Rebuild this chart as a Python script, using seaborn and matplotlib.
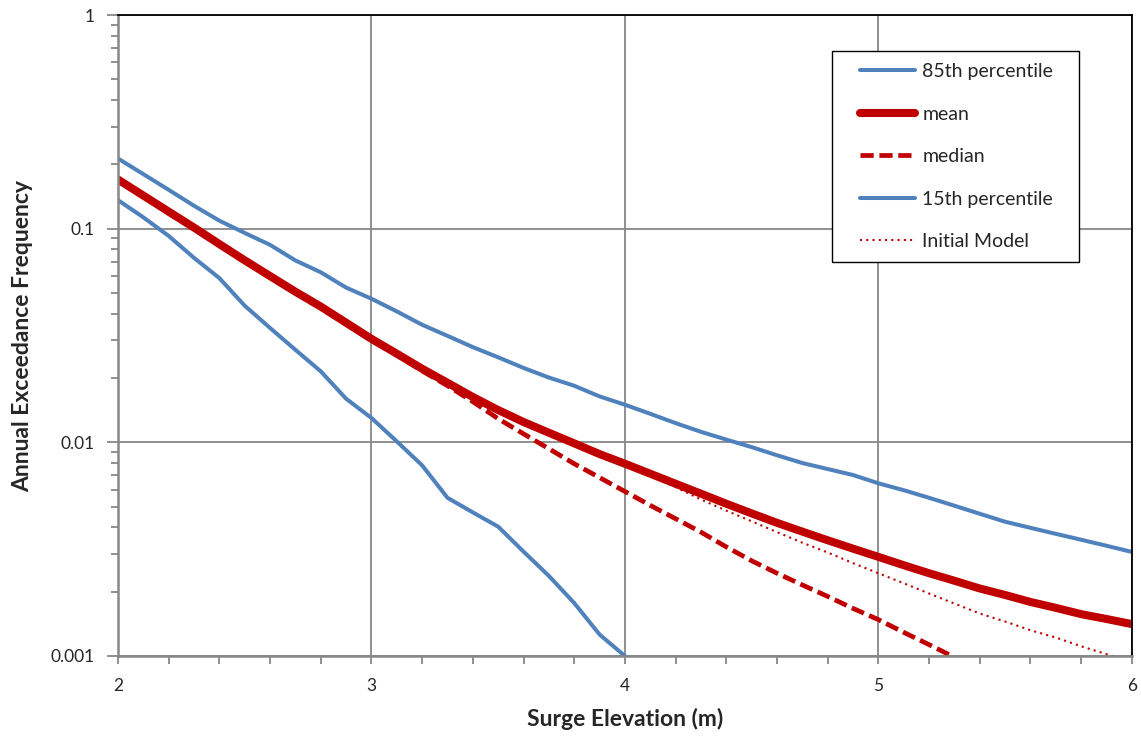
import numpy as np
import pandas as pd
import matplotlib
matplotlib.use("Agg")
import matplotlib.pyplot as plt
from matplotlib.patches import Rectangle
from matplotlib.ticker import FixedLocator, MultipleLocator, NullFormatter, LogLocator
import seaborn as sns

# Surge elevation (m)
elevation = [2.0, 2.1, 2.2, 2.3, 2.4, 2.5, 2.6, 2.7, 2.8, 2.9,
             3.0, 3.1, 3.2, 3.3, 3.4, 3.5, 3.6, 3.7, 3.8, 3.9,
             4.0, 4.1, 4.2, 4.3, 4.4, 4.5, 4.6, 4.7, 4.8, 4.9,
             5.0, 5.1, 5.2, 5.3, 5.4, 5.5, 5.6, 5.7, 5.8, 5.9, 6.0]

# Annual exceedance frequency per series
p85 = [0.213, 0.180, 0.152, 0.128, 0.109, 0.0955, 0.0840, 0.0710, 0.0625, 0.0530,
       0.0470, 0.0410, 0.0355, 0.0315, 0.0279, 0.0250, 0.0223, 0.0201, 0.0184, 0.0164,
       0.0150, 0.0136, 0.0123, 0.0112, 0.0103, 0.0095, 0.0087, 0.0080, 0.0075, 0.00703,
       0.00643, 0.00597, 0.00550, 0.00505, 0.00463, 0.00425, 0.00398, 0.00373, 0.00350,
       0.00328, 0.00307]

mean = [0.1698, 0.1429, 0.1202, 0.1012, 0.0847, 0.0711, 0.0600, 0.0507, 0.0432, 0.0363,
        0.0305, 0.0260, 0.0221, 0.0190, 0.0163, 0.01416, 0.01245, 0.01109, 0.00989, 0.00881,
        0.00794, 0.00713, 0.00640, 0.00575, 0.00516, 0.00465, 0.00420, 0.00382, 0.00348,
        0.00318, 0.00291, 0.00266, 0.00244, 0.00225, 0.00207, 0.00193, 0.00179, 0.00168,
        0.00157, 0.00149, 0.00141]

median_elev = elevation[:34]
median = [0.168, 0.141, 0.118, 0.0995, 0.0835, 0.0700, 0.0590, 0.0499, 0.0425, 0.0357,
          0.0300, 0.0256, 0.0216, 0.0184, 0.0155, 0.0129, 0.01096, 0.00933, 0.00794, 0.00684,
          0.00589, 0.00507, 0.00439, 0.00380, 0.00324, 0.00279, 0.00244, 0.00215, 0.00190,
          0.00167, 0.00148, 0.00129, 0.00113, 0.000986]

p15_elev = elevation[:21]
p15 = [0.136, 0.113, 0.0925, 0.0730, 0.0587, 0.0436, 0.0343, 0.0271, 0.0215, 0.0160,
       0.0130, 0.0101, 0.0078, 0.0055, 0.0047, 0.00403, 0.00308, 0.00237, 0.00177, 0.00126,
       0.00100]

initial = [0.171, 0.1435, 0.1205, 0.1015, 0.0850, 0.0714, 0.0603, 0.0510, 0.0436, 0.0368,
           0.0311, 0.0266, 0.0227, 0.0195, 0.0167, 0.0145, 0.0127, 0.0112, 0.00995, 0.00885,
           0.00790, 0.00700, 0.00617, 0.00540, 0.00479, 0.00427, 0.00380, 0.00339, 0.00305,
           0.00272, 0.00244, 0.00219, 0.00196, 0.00176, 0.00158, 0.00145, 0.00132, 0.00122,
           0.00111, 0.00102, 0.00093]

y_ticks = [0.001, 0.01, 0.1, 1]
y_tick_labels = ["0.001", "0.01", "0.1", "1"]
x_ticks = [2, 3, 4, 5, 6]

BLUE = "#4F81BD"
RED = "#C00000"
GREY = "#878787"

sns.set_theme(style="white")
plt.rcParams["font.family"] = ["Lato", "DejaVu Sans"]

fig = plt.figure(figsize=(11.41, 7.36), dpi=100)
ax = fig.add_axes([0.1034, 0.1087, 0.8886, 0.8709])

series = [
    ("85th percentile", elevation, p85, dict(color=BLUE, linewidth=2.9, linestyle="-")),
    ("mean", elevation, mean, dict(color=RED, linewidth=5.8, linestyle="-")),
    ("median", median_elev, median, dict(color=RED, linewidth=3.4, linestyle=(0, (2.8, 1.2)))),
    ("15th percentile", p15_elev, p15, dict(color=BLUE, linewidth=2.9, linestyle="-")),
    ("Initial Model", elevation, initial, dict(color=RED, linewidth=1.5, linestyle=(0, (1, 2)))),
]

for label, xs, ys, style in series:
    df = pd.DataFrame({"elevation": xs, "frequency": ys})
    sns.lineplot(data=df, x="elevation", y="frequency", ax=ax, label=label,
                 estimator=None, sort=False, solid_capstyle="round",
                 dash_capstyle="butt", **style)

ax.set_yscale("log")
ax.set_xlim(2, 6)
ax.set_ylim(0.001, 1)

ax.yaxis.set_major_locator(FixedLocator(y_ticks))
ax.set_yticklabels(y_tick_labels)
ax.yaxis.set_minor_locator(LogLocator(base=10, subs=np.arange(2, 10)))
ax.yaxis.set_minor_formatter(NullFormatter())
ax.xaxis.set_major_locator(FixedLocator(x_ticks))
ax.set_xticklabels([str(t) for t in x_ticks])
ax.xaxis.set_minor_locator(MultipleLocator(0.2))

ax.grid(True, which="major", color=GREY, linewidth=1.3)
ax.set_axisbelow(True)

ax.tick_params(axis="y", which="major", direction="out", length=8, width=1.3,
               color=GREY, labelsize=12.5, pad=9, left=True)
ax.tick_params(axis="y", which="minor", direction="out", length=5, width=1.3,
               color=GREY, left=True)
ax.tick_params(axis="x", which="both", direction="out", length=6, width=1.3,
               color=GREY, labelsize=12.5, pad=10, bottom=True)

for side in ("left", "bottom"):
    ax.spines[side].set_color(GREY)
    ax.spines[side].set_linewidth(1.8)
for side in ("top", "right"):
    ax.spines[side].set_color("black")
    ax.spines[side].set_linewidth(1.3)
    ax.spines[side].set_visible(True)

ax.set_xlabel("Surge Elevation (m)", fontsize=16.5, fontweight="bold", labelpad=10)
ax.set_ylabel("Annual Exceedance Frequency", fontsize=16.5, fontweight="bold", labelpad=12)

# Legend box: white panel with a thin black border, entries placed inside it
box = Rectangle((0.7041, 0.6147), 0.2436, 0.3291, transform=ax.transAxes,
                facecolor="white", edgecolor="black", linewidth=1.0, zorder=4)
ax.add_patch(box)
leg = ax.legend(loc="upper left", bbox_to_anchor=(0.7318, 0.9248), fontsize=14,
                frameon=False, borderpad=0, labelspacing=1.31, handlelength=2.84,
                handletextpad=0.36, borderaxespad=0)
leg.set_zorder(5)

fig.savefig("out.png", dpi=100)
